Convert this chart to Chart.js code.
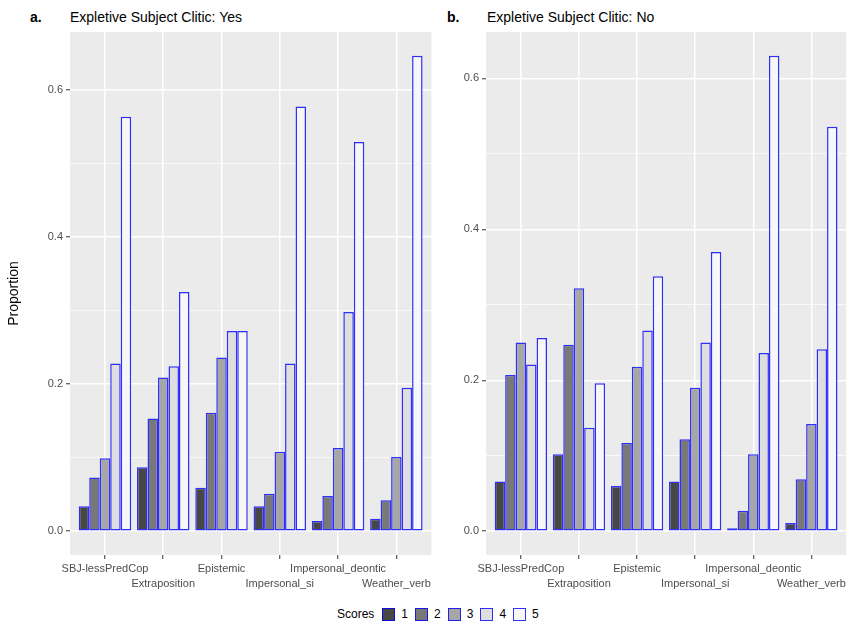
<!DOCTYPE html>
<html>
<head>
<meta charset="utf-8">
<script src="https://cdn.jsdelivr.net/npm/chart.js@4/dist/chart.umd.min.js"></script>
<style>
  html, body { margin: 0; padding: 0; background: #fff; }
  body { width: 849px; height: 621px; position: relative; overflow: hidden;
         font-family: "Liberation Sans", Arial, sans-serif; }
  canvas { position: absolute; top: 0; }
  .tag { position: absolute; top: 9px; font-size: 14px; font-weight: bold; color: #000; }
  .ptitle { position: absolute; top: 9px; font-size: 14px; color: #000; }
  #legend { position: absolute; top: 607px; left: 337px; display: flex; align-items: center;
            font-size: 12px; color: #000; }
  #legend .box { width: 11px; height: 11px; border: 1.5px solid rgba(0,0,255,0.8); margin-right: 6px; }
  #legend .lab { margin-right: 7px; }
  #legend .ttl { margin-right: 8px; }
</style>
</head>
<body>
<div class="tag" style="left:30px">a.</div>
<div class="ptitle" style="left:70px">Expletive Subject Clitic: Yes</div>
<div class="tag" style="left:447px">b.</div>
<div class="ptitle" style="left:487px">Expletive Subject Clitic: No</div>
<canvas id="chartA" width="434" height="600" style="left:0px"></canvas>
<canvas id="chartB" width="415" height="600" style="left:434px"></canvas>
<div id="legend"></div>

<script>
// Construction types on the x axis
const categories = ["SBJ-lessPredCop", "Extraposition", "Epistemic",
                    "Impersonal_si", "Impersonal_deontic", "Weather_verb"];
// Acceptability scores (one bar per score within each construction)
const scoreLabels = ["1", "2", "3", "4", "5"];
// Y-axis tick values
const yTickValues = [0, 0.1, 0.2, 0.3, 0.4, 0.5, 0.6];

// Proportions with an expletive subject clitic
const yes1 = [0.034, 0.087, 0.059, 0.034, 0.014, 0.017];
const yes2 = [0.073, 0.153, 0.161, 0.051, 0.048, 0.042];
const yes3 = [0.099, 0.209, 0.236, 0.108, 0.113, 0.101];
const yes4 = [0.228, 0.224, 0.272, 0.228, 0.298, 0.195];
const yes5 = [0.563, 0.325, 0.272, 0.577, 0.529, 0.646];

// Proportions without an expletive subject clitic
const no1 = [0.066, 0.102, 0.060, 0.066, 0.004, 0.011];
const no2 = [0.207, 0.247, 0.117, 0.122, 0.027, 0.069];
const no3 = [0.250, 0.322, 0.218, 0.190, 0.102, 0.142];
const no4 = [0.221, 0.137, 0.266, 0.250, 0.236, 0.241];
const no5 = [0.256, 0.196, 0.338, 0.370, 0.630, 0.536];

const fills = ["#474747", "#787878", "#A6A6A6", "#DEDEDE", "#F7F7F7"];
const edge = "rgba(0,0,255,0.8)";
const tickFont = { family: "'Liberation Sans', Arial, sans-serif", size: 11 };

// grey panel background, like a ggplot panel
const panelBg = {
  id: "panelBg",
  beforeDraw(chart) {
    const a = chart.chartArea, c = chart.ctx;
    c.save();
    c.fillStyle = "#EBEBEB";
    c.fillRect(a.left, a.top, a.right - a.left, a.bottom - a.top);
    c.restore();
  }
};

const isMajor = v => Math.round(v * 10) % 2 === 0;

function makePanel(canvasId, series, yAxisWidth, showYTitle) {
  const ymax = Math.max(...series.flat());
  const datasets = series.map((vals, s) => ({
    label: scoreLabels[s],
    data: vals.map((v, i) => ({ x: i + 1, y: v })),
    backgroundColor: fills[s],
    borderColor: edge,
    borderWidth: 1.5,
    borderSkipped: false,
    categoryPercentage: 0.9,
    barPercentage: 1.0
  }));
  return new Chart(document.getElementById(canvasId), {
    type: "bar",
    data: { datasets },
    plugins: [panelBg],
    options: {
      responsive: false,
      animation: false,
      devicePixelRatio: 1,
      layout: { padding: { top: 32, right: 2, bottom: 0, left: 0 } },
      plugins: { legend: { display: false }, tooltip: { enabled: false } },
      scales: {
        x: {
          type: "linear",
          min: 0.4, max: 6.6,
          offset: false,
          afterBuildTicks: axis => { axis.ticks = categories.map((c, i) => ({ value: i + 1 })); },
          afterFit: axis => { axis.height = 45; },
          border: { display: false },
          grid: { color: "#FFFFFF", lineWidth: 1.5, offset: false,
                  drawTicks: true, tickLength: 4, tickColor: "#333333", tickWidth: 1 },
          ticks: {
            autoSkip: false, maxRotation: 0, minRotation: 0, padding: 3,
            color: "#4D4D4D", font: Object.assign({ lineHeight: 1.32 }, tickFont),
            callback: v => {
              const i = Math.round(v) - 1;
              return i % 2 === 0 ? categories[i] : ["", categories[i]];
            }
          }
        },
        y: {
          min: -0.05 * ymax, max: 1.05 * ymax,
          afterBuildTicks: axis => { axis.ticks = yTickValues.map(v => ({ value: v })); },
          afterFit: axis => { axis.width = yAxisWidth; },
          border: { display: false },
          grid: {
            color: "#FFFFFF",
            lineWidth: ctx => (ctx.tick && isMajor(ctx.tick.value) ? 1.5 : 0.7),
            drawTicks: true, tickLength: 4, tickWidth: 1,
            tickColor: ctx => (ctx.tick && isMajor(ctx.tick.value) ? "#333333" : "rgba(0,0,0,0)")
          },
          ticks: {
            padding: 3, color: "#4D4D4D", font: tickFont,
            callback: v => (isMajor(v) ? v.toFixed(1) : "")
          },
          title: {
            display: showYTitle, text: "Proportion", color: "#000",
            font: { family: "'Liberation Sans', Arial, sans-serif", size: 14 },
            padding: { top: 6, bottom: 0 }
          }
        }
      }
    }
  });
}

makePanel("chartA", [yes1, yes2, yes3, yes4, yes5], 70, true);
makePanel("chartB", [no1, no2, no3, no4, no5], 52, false);

// shared legend for the score fills
const legend = document.getElementById("legend");
const ttl = document.createElement("span");
ttl.className = "ttl"; ttl.textContent = "Scores";
legend.appendChild(ttl);
scoreLabels.forEach((s, i) => {
  const b = document.createElement("span");
  b.className = "box"; b.style.background = fills[i];
  const l = document.createElement("span");
  l.className = "lab"; l.textContent = s;
  legend.appendChild(b); legend.appendChild(l);
});
</script>
</body>
</html>
